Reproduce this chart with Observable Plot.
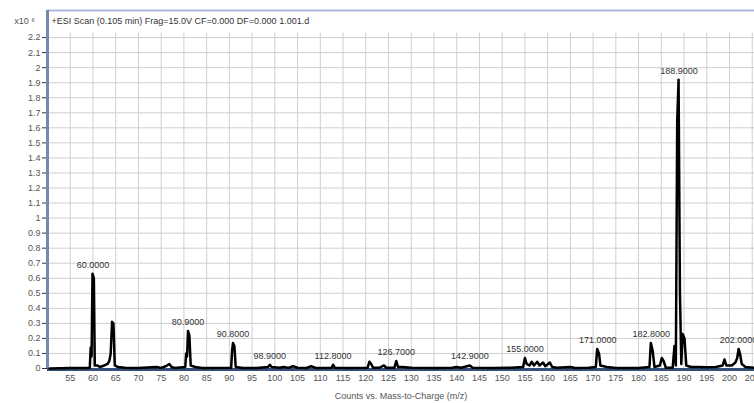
<!DOCTYPE html>
<html>
<head>
<meta charset="utf-8">
<script src="https://cdn.jsdelivr.net/npm/d3@7"></script>
<script src="https://cdn.jsdelivr.net/npm/@observablehq/plot@0.6"></script>
<style>
  html, body { margin: 0; padding: 0; background: #fff; }
</style>
</head>
<body>
<div id="chart"></div>
<script>
// Spectrum profile (m/z, counts in units of 10^6)
const mz = [50.5, 55, 58, 59.3, 59.5, 59.7, 59.9, 60.2, 60.4, 61, 61.5, 62.5, 63.2, 63.6, 63.9, 64.2, 64.5, 64.8, 65.5, 67, 70, 74, 75, 76, 76.8, 77.3, 78,
  80.3, 80.5, 80.7, 80.9, 81.2, 81.5, 82.5, 84, 90.4, 90.6, 90.8, 91.1, 91.4, 93, 96, 98.5, 98.9, 99.3, 101, 102, 103, 104, 105, 107, 108, 109,
  112.5, 112.8, 113.2, 117, 120.4, 120.8, 121.2, 121.6, 123, 124, 124.5, 126.3, 126.7, 127.1, 128, 130, 135, 139, 140, 141, 142.9, 143.5, 148, 152,
  154.6, 155, 155.4, 156, 156.5, 157, 157.7, 158.2, 159, 159.5, 160.5, 161, 162, 165, 166, 169, 170.6, 170.9, 171.3, 171.6, 173, 175, 180,
  182.4, 182.7, 183.1, 183.5, 184.7, 185.1, 185.5, 186, 187.5, 187.9, 188.2, 188.5, 188.8, 189.1, 189.4, 189.7, 190.1, 190.5, 191.5, 193, 195, 197,
  198.5, 198.9, 199.3, 200.5, 201.3, 201.7, 202, 202.3, 202.7, 203.5, 205.5];
const intensity = [0, 0.003, 0.004, 0.005, 0.14, 0.08, 0.63, 0.6, 0.02, 0.02, 0.01, 0.02, 0.03, 0.05, 0.1, 0.31, 0.3, 0.02, 0.01, 0.005, 0.003, 0.01, 0.004, 0.015, 0.03, 0.01, 0.003,
  0.01, 0.1, 0.08, 0.25, 0.22, 0.02, 0.01, 0.003, 0.005, 0.12, 0.17, 0.15, 0.01, 0.003, 0.004, 0.01, 0.025, 0.01, 0.005, 0.01, 0.004, 0.015, 0.005, 0.004, 0.015, 0.004,
  0.005, 0.025, 0.005, 0.003, 0.005, 0.045, 0.03, 0.005, 0.005, 0.02, 0.005, 0.005, 0.05, 0.01, 0.01, 0.005, 0.003, 0.005, 0.01, 0.005, 0.02, 0.005, 0.003, 0.005,
  0.01, 0.07, 0.03, 0.02, 0.045, 0.02, 0.045, 0.02, 0.04, 0.015, 0.04, 0.01, 0.005, 0.01, 0.003, 0.005, 0.01, 0.13, 0.1, 0.02, 0.01, 0.003, 0.003,
  0.01, 0.17, 0.12, 0.01, 0.02, 0.07, 0.05, 0.005, 0.005, 0.15, 0.02, 1.65, 1.92, 0.5, 0.03, 0.23, 0.2, 0.02, 0.01, 0.01, 0.008, 0.01,
  0.02, 0.06, 0.02, 0.02, 0.04, 0.07, 0.13, 0.1, 0.03, 0.01, 0.005];

// Labelled peaks
const peakMz = [60.0, 80.9, 90.8, 98.9, 112.8, 126.7, 142.9, 155.0, 171.0, 182.8, 188.9, 202.0];
const peakTop = [0.63, 0.25, 0.17, 0.025, 0.025, 0.05, 0.02, 0.07, 0.13, 0.17, 1.92, 0.13];
const peakLabel = ["60.0000", "80.9000", "90.8000", "98.9000", "112.8000", "126.7000", "142.9000", "155.0000", "171.0000", "182.8000", "188.9000", "202.0000"];

const xTicks = [55, 60, 65, 70, 75, 80, 85, 90, 95, 100, 105, 110, 115, 120, 125, 130, 135, 140, 145, 150, 155, 160, 165, 170, 175, 180, 185, 190, 195, 200, 205];
const yTicks = [0, 0.1, 0.2, 0.3, 0.4, 0.5, 0.6, 0.7, 0.8, 0.9, 1, 1.1, 1.2, 1.3, 1.4, 1.5, 1.6, 1.7, 1.8, 1.9, 2, 2.1, 2.2];

const title = "+ESI Scan (0.105 min) Frag=15.0V CF=0.000 DF=0.000 1.001.d";
const yUnit = "x10 \u2076";
const xLabel = "Counts vs. Mass-to-Charge (m/z)";

const xMin = 50, xMax = 205.5, yMax = 2.38, gridTop = 2.23;

const spectrum = mz.map((m, i) => ({mz: m, v: intensity[i]}));
const peaks = peakMz.map((m, i) => ({mz: m, v: peakTop[i], label: peakLabel[i]}));

const chart = Plot.plot({
  width: 754,
  height: 403,
  marginLeft: 47,
  marginRight: 0,
  marginTop: 10,
  marginBottom: 35,
  style: {fontFamily: "'Liberation Sans', Arial, sans-serif", fontSize: "9px", color: "#555", background: "#fff"},
  x: {domain: [xMin, xMax]},
  y: {domain: [0, yMax]},
  marks: [
    // grid
    Plot.ruleY(yTicks, {x1: xMin, x2: xMax, stroke: "#cfcfcf", strokeWidth: 1}),
    Plot.ruleX(xTicks, {y1: 0, y2: gridTop, stroke: "#cfcfcf", strokeWidth: 1}),
    // title box top line
    Plot.ruleY([yMax], {stroke: "#a9badb", strokeWidth: 2}),
    // axes
    Plot.axisY({ticks: yTicks, tickSize: 5, tickPadding: 2, tickFormat: d => String(+d.toFixed(1)), stroke: "#333", fill: "#555", label: null}),
    Plot.axisX({ticks: xTicks, tickSize: 3, tickPadding: 3, tickFormat: d => String(d), stroke: "#333", fill: "#555",
      label: xLabel, labelAnchor: "center", labelArrow: "none", labelOffset: 30}),
    Plot.ruleX([xMin], {y1: 0, y2: yMax, stroke: "#7389ad", strokeWidth: 3}),
    Plot.ruleY([0], {stroke: "#34507a", strokeWidth: 3, dy: 1}),
    // spectrum
    Plot.line(spectrum, {x: "mz", y: "v", stroke: "#000", strokeWidth: 2.5, strokeLinejoin: "round"}),
    // peak labels
    Plot.text(peaks, {x: "mz", y: "v", text: "label", dy: -9, fill: "#333", fontSize: 9}),
    // title and unit
    Plot.text([title], {frameAnchor: "top-left", dx: 4, dy: 7, textAnchor: "start", fill: "#333", fontSize: 9}),
    Plot.text([yUnit], {frameAnchor: "top-left", dx: -23, dy: 7, textAnchor: "middle", fill: "#555", fontSize: 9})
  ]
});
document.getElementById("chart").appendChild(chart);
</script>
</body>
</html>
